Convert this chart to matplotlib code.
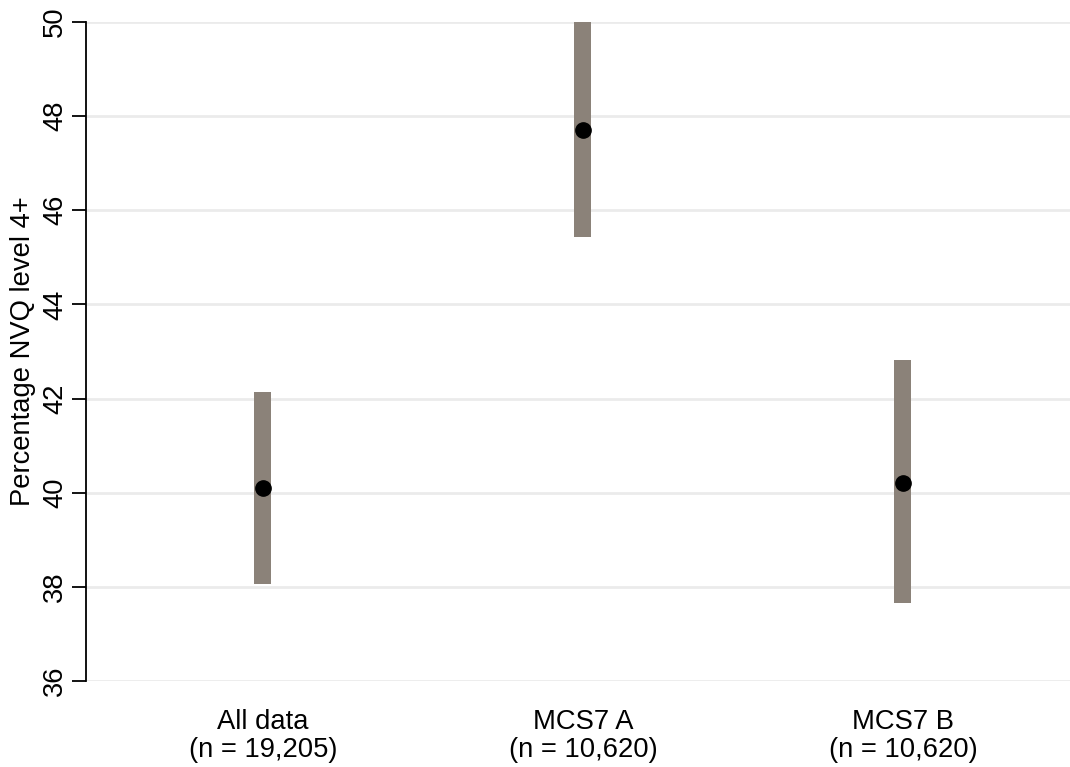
import numpy as np
import matplotlib
matplotlib.use("Agg")
import matplotlib.pyplot as plt

plt.rcParams['font.family'] = ['Liberation Sans', 'DejaVu Sans']

# Data
categories = ["All data\n(n = 19,205)", "MCS7 A\n(n = 10,620)", "MCS7 B\n(n = 10,620)"]
estimates = [40.09, 47.71, 40.21]
ci_low = [38.07, 45.43, 37.66]
ci_high = [42.13, 50.0, 42.82]
y_ticks = [36, 38, 40, 42, 44, 46, 48, 50]

FS = 19.7

fig = plt.figure(figsize=(10.70, 7.67), dpi=100)
ax = fig.add_axes([86 / 1070, 1 - 681 / 767, 1 - 86 / 1070, (681 - 22) / 767])

x_pos = np.arange(1, len(categories) + 1)
lo = np.array(ci_low)
hi = np.array(ci_high)

# Confidence interval bars
ax.bar(x_pos, hi - lo, bottom=lo, width=0.053, color='#8b8279', zorder=2)
# Point estimates
ax.plot(x_pos, estimates, 'o', color='black', markersize=11, zorder=3)

ax.set_xlim(0.447, 3.522)
ax.set_ylim(36, 50)

# Horizontal gridlines
ax.set_yticks(y_ticks)
ax.set_yticklabels([str(t) for t in y_ticks], rotation=90, va='center', fontsize=FS)
ax.grid(axis='y', color='#ebebeb', linewidth=2, zorder=0)
ax.set_axisbelow(True)

ax.set_xticks(x_pos)
ax.set_xticklabels(categories, fontsize=FS, linespacing=1.1)
ax.tick_params(axis='x', length=0, pad=20)
ax.tick_params(axis='y', length=10, width=1.3, pad=3)

ax.set_ylabel("Percentage NVQ level 4+", fontsize=FS, labelpad=4)

for side in ['top', 'right', 'bottom']:
    ax.spines[side].set_visible(False)
ax.spines['left'].set_linewidth(1.3)

fig.savefig("out.png", dpi=100)
